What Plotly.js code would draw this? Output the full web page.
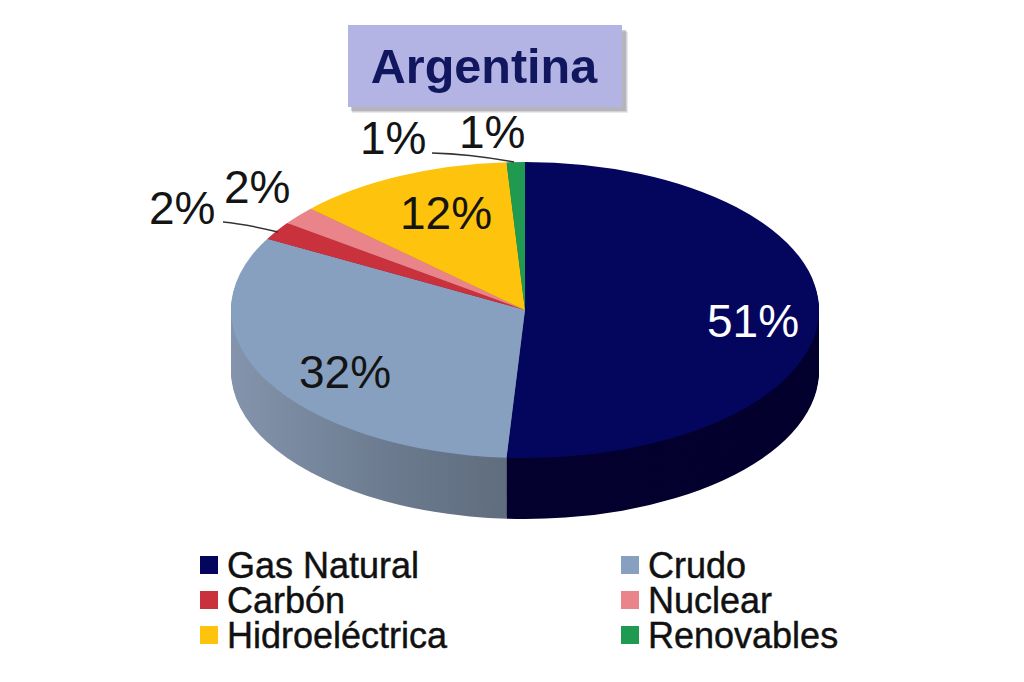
<!DOCTYPE html>
<html><head><meta charset="utf-8">
<script src="https://cdn.plot.ly/plotly-3.0.1.min.js"></script>
<style>html,body{margin:0;padding:0;background:#fff}#c{width:1024px;height:682px}</style></head>
<body><div id="c"></div>
<script>
const categories = ['Gas Natural','Crudo','Carbón','Nuclear','Hidroeléctrica','Renovables'];
const shares = [51,32,2,2,12,1];
const faceColors = ['#04065e','#87a0bf','#c9313d','#e8848a','#fec30d','#1f9a50'];
const wallColors = ['#04012f','#6d7c90','#8c2029','#a05a60','#b08a08','#146a38'];
const W=1024,H=682,R=200,cxU=512,cyU=240;
const cx=525,cy=310,rx=294,ry=148,depth=61;
const sx=rx/R, sy=ry/R, layers=40;
function dom(off){return {
  x:[(cxU-R)/W,(cxU+R)/W],
  y:[(H-cyU-off-R)/H,(H-cyU-off+R)/H]};}
const common={type:'pie',labels:categories,values:shares,sort:false,direction:'clockwise',rotation:0,
  textinfo:'none',hoverinfo:'label+percent'};
const data=[];
for(let i=layers;i>=1;i--){
  data.push(Object.assign({},common,{domain:dom(depth/sy*i/layers),showlegend:false,
    marker:{colors:wallColors,line:{width:0}}}));
}
data.push(Object.assign({},common,{domain:dom(0),showlegend:true,marker:{colors:faceColors,line:{width:0}}}));
const F='"Liberation Sans", Arial, sans-serif';
function lab(t,x,y,c){return {text:t,x:x/W,y:1-y/H,xref:'paper',yref:'paper',showarrow:false,xanchor:'center',yanchor:'middle',
  font:{family:F,size:46,color:c||'#141414'}};}
function r(x0,y0,x1,y1,c,o){return {type:'rect',xref:'paper',yref:'paper',x0:x0/W,x1:x1/W,y0:1-y1/H,y1:1-y0/H,fillcolor:c,line:{width:0},opacity:o,layer:'below'};}
const layout={width:W,height:H,margin:{l:0,r:0,t:0,b:0},paper_bgcolor:'#fff',plot_bgcolor:'#fff',
  title:{text:'<b>Argentina</b>',x:484/W,y:1-66/H,xref:'paper',yref:'paper',xanchor:'center',yanchor:'middle',
    font:{family:F,size:48.5,color:'#10175f'}},
  legend:{orientation:'h',x:0,y:0.5,xanchor:'left',yanchor:'middle',entrywidth:380,entrywidthmode:'pixels',
    font:{family:F,size:36,color:'#111'},traceorder:'normal',bgcolor:'rgba(0,0,0,0)'},
  shapes:[
    r(352,32,628,113,'#8a8a94',.18),
    r(352,31,627,112,'#8a8a94',.25),
    r(351,30,626,111,'#8a8a94',.4),
    r(348,25,622,107,'#b4b4e4',1),
    {type:'path',xref:'paper',yref:'paper',path:`M${432/W},${1-153/H} Q${470/W},${1-154/H} ${514/W},${1-162/H}`,line:{color:'#333',width:1.5},layer:'above'},
    {type:'path',xref:'paper',yref:'paper',path:`M${223/W},${1-222/H} Q${245/W},${1-224/H} ${278/W},${1-232/H}`,line:{color:'#333',width:1.5},layer:'above'}
  ],
  annotations:[lab('51%',753,321,'#ffffff'),lab('32%',345,372),lab('12%',446,213),lab('2%',182,208),lab('2%',257,187),lab('1%',393,138),lab('1%',492,132)]
};
Plotly.newPlot('c',data,layout,{displayModeBar:false,staticPlot:true}).then(gd=>{
  const svg=gd.querySelector('svg.main-svg');
  const pl=gd.querySelector('.pielayer');
  pl.setAttribute('transform',`translate(${cx-sx*cxU},${cy-sy*cyU}) scale(${sx},${sy})`);
  const NS='http://www.w3.org/2000/svg';
  const defs=svg.querySelector('defs')||svg.insertBefore(document.createElementNS(NS,'defs'),svg.firstChild);
  const g=document.createElementNS(NS,'linearGradient');g.id='wallCrudo';
  [['0','#8394ac'],['0.55','#6b7a8e'],['1','#5e6b7c']].forEach(s=>{const e=document.createElementNS(NS,'stop');e.setAttribute('offset',s[0]);e.setAttribute('stop-color',s[1]);g.appendChild(e);});
  defs.appendChild(g);
  const traces=pl.querySelectorAll('.trace');
  traces.forEach((t,i)=>{ if(i<traces.length-1){const s=t.querySelectorAll('.slice path.surface');if(s[1])s[1].style.fill='url(#wallCrudo)';}});
  // legend: place rows and columns like the reference
  const leg=gd.querySelector('.legend');
  leg.setAttribute('transform','translate(0,0)');
  const colX=[209,630], rowY=[565,600,635];
  leg.querySelectorAll('.traces').forEach((t,i)=>{
    const row=Math.floor(i/2), col=i%2;
    t.setAttribute('transform',`translate(${colX[col]-20},${rowY[row]})`);
    const p=t.querySelector('.legendpoints path');
    if(p)p.setAttribute('transform','translate(20,0) scale(1.5)');
    const tx=t.querySelector('text');
    if(tx){tx.setAttribute('x',38);tx.setAttribute('y',parseFloat(tx.getAttribute('y')||0)-1);tx.style.stroke='#111';tx.style.strokeWidth='0.45px';}
  });
  const sc=leg.querySelector('.scrollbox');
  if(sc){sc.removeAttribute('clip-path');sc.setAttribute('transform','translate(0,0)');}
  leg.removeAttribute('clip-path');
});
</script></body></html>
